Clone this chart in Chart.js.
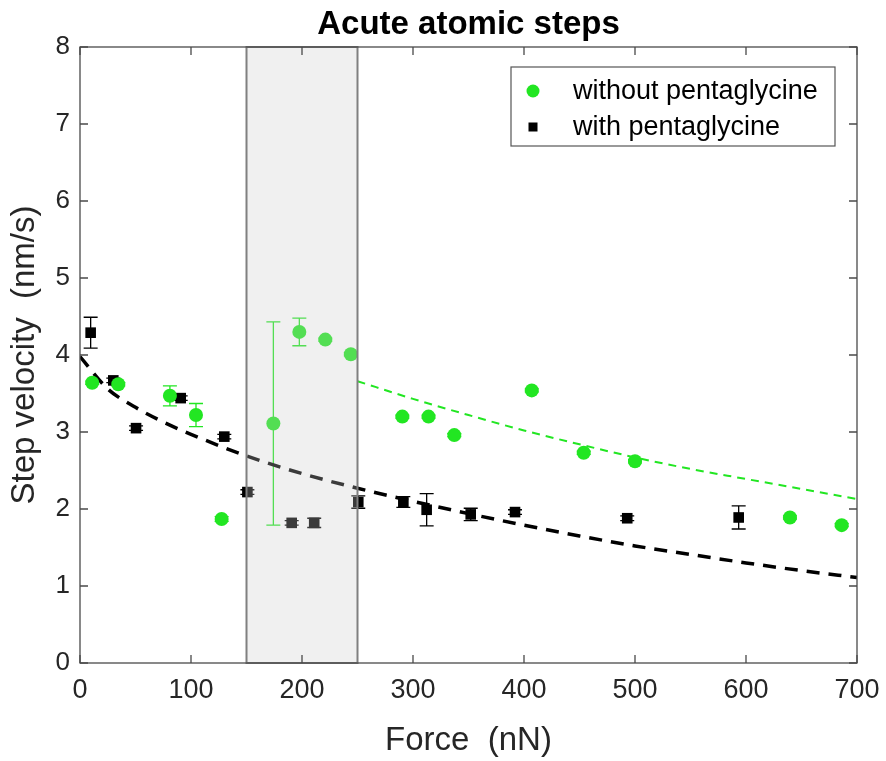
<!DOCTYPE html>
<html><head><meta charset="utf-8">
<script src="https://cdn.jsdelivr.net/npm/chart.js@4.4.1/dist/chart.umd.min.js"></script>
<style>html,body{margin:0;padding:0;background:#fff}#wrap{width:886px;height:761px}</style>
</head><body><div id="wrap"><canvas id="c" width="886" height="761"></canvas></div>
<script>
// ---- data ----
const chartTitle = "Acute atomic steps";
const xTitle = "Force  (nN)";
const yTitle = "Step velocity  (nm/s)";
const labelWithout = "without pentaglycine";
const labelWith = "with pentaglycine";

const withoutX   = [11, 34.5, 81, 104.5, 127.6, 174.2, 197.6, 221, 244, 290.4, 314, 337.2, 407, 453.8, 500, 639.6, 686.2];
const withoutY   = [3.64, 3.62, 3.47, 3.22, 1.87, 3.11, 4.30, 4.20, 4.01, 3.20, 3.20, 2.96, 3.54, 2.73, 2.62, 1.89, 1.79];
const withoutErr = [0.02, 0.02, 0.13, 0.15, 0.03, 1.32, 0.18, 0.02, 0.02, 0.02, 0.02, 0.02, 0.02, 0.02, 0.02, 0.02, 0.02];

const withX   = [9.6, 30, 50.5, 90.7, 130, 150.8, 190.7, 211, 250.7, 291.3, 312.3, 352, 391.9, 493, 593.4];
const withY   = [4.29, 3.67, 3.05, 3.44, 2.94, 2.22, 1.82, 1.82, 2.09, 2.09, 1.99, 1.93, 1.96, 1.88, 1.89];
const withErr = [0.20, 0.03, 0.03, 0.03, 0.03, 0.03, 0.03, 0.06, 0.08, 0.07, 0.21, 0.08, 0.03, 0.03, 0.15];

const fitWithX = [0, 25, 50, 75, 100, 150, 200, 250, 300, 350, 400, 450, 500, 550, 600, 650, 700];
const fitWithY = [3.98, 3.56, 3.32, 3.13, 2.97, 2.69, 2.46, 2.27, 2.10, 1.94, 1.79, 1.65, 1.52, 1.41, 1.30, 1.20, 1.11];

const fitWithoutX = [250, 300, 350, 400, 450, 500, 550, 600, 650, 700];
const fitWithoutY = [3.66, 3.43, 3.22, 3.02, 2.84, 2.67, 2.52, 2.39, 2.26, 2.13];

const shadedRange = [150, 250];
const xTicks = [0, 100, 200, 300, 400, 500, 600, 700];
const yTicks = [0, 1, 2, 3, 4, 5, 6, 7, 8];

// ---- styles ----
const GREEN = '#22e622';
const AXIS = '#4a4a4a';
const TEXT = '#262626';
const FONT = '"Liberation Sans", Arial, Helvetica, sans-serif';

const toPts = (xs, ys) => xs.map((x, i) => ({x: x, y: ys[i]}));

const errorBars = {
  id: 'errorBars',
  beforeDatasetsDraw(chart) {
    const ctx = chart.ctx, xs = chart.scales.x, ys = chart.scales.y;
    const sets = [
      {x: withoutX, y: withoutY, e: withoutErr, c: GREEN},
      {x: withX, y: withY, e: withErr, c: '#000'}
    ];
    ctx.save();
    ctx.lineWidth = 1.3;
    sets.forEach(s => {
      ctx.strokeStyle = s.c;
      s.x.forEach((xv, i) => {
        const px = xs.getPixelForValue(xv);
        const top = ys.getPixelForValue(s.y[i] + s.e[i]);
        const bot = ys.getPixelForValue(s.y[i] - s.e[i]);
        ctx.beginPath();
        ctx.moveTo(px, top); ctx.lineTo(px, bot);
        ctx.moveTo(px - 7, top); ctx.lineTo(px + 7, top);
        ctx.moveTo(px - 7, bot); ctx.lineTo(px + 7, bot);
        ctx.stroke();
      });
    });
    ctx.restore();
  },
  afterDatasetsDraw(chart) {
    const ctx = chart.ctx, xs = chart.scales.x, ys = chart.scales.y;
    const a = chart.chartArea;
    // shaded band
    const x0 = xs.getPixelForValue(shadedRange[0]);
    const x1 = xs.getPixelForValue(shadedRange[1]);
    ctx.save();
    ctx.fillStyle = 'rgba(203,203,203,0.29)';
    ctx.fillRect(x0, a.top, x1 - x0, a.bottom - a.top);
    ctx.strokeStyle = '#808080';
    ctx.lineWidth = 2;
    ctx.strokeRect(x0, a.top, x1 - x0, a.bottom - a.top);
    // frame
    ctx.strokeStyle = AXIS;
    ctx.lineWidth = 1.3;
    ctx.strokeRect(a.left, a.top, a.right - a.left, a.bottom - a.top);
    // inward ticks on all sides
    ctx.beginPath();
    xTicks.forEach(v => {
      const p = xs.getPixelForValue(v);
      ctx.moveTo(p, a.bottom); ctx.lineTo(p, a.bottom - 8);
      ctx.moveTo(p, a.top); ctx.lineTo(p, a.top + 8);
    });
    yTicks.forEach(v => {
      const p = ys.getPixelForValue(v);
      ctx.moveTo(a.left, p); ctx.lineTo(a.left + 8, p);
      ctx.moveTo(a.right, p); ctx.lineTo(a.right - 8, p);
    });
    ctx.stroke();
    // title
    ctx.fillStyle = '#000';
    ctx.font = 'bold 33px ' + FONT;
    ctx.textAlign = 'center';
    ctx.textBaseline = 'middle';
    ctx.fillText(chartTitle, (a.left + a.right) / 2, 25);
    // legend
    const lx = 511, ly = 67, lw = 324, lh = 79;
    ctx.fillStyle = '#fff';
    ctx.fillRect(lx, ly, lw, lh);
    ctx.strokeStyle = '#555';
    ctx.lineWidth = 1.2;
    ctx.strokeRect(lx, ly, lw, lh);
    ctx.fillStyle = GREEN;
    ctx.beginPath(); ctx.arc(lx + 22, ly + 24, 6.5, 0, Math.PI * 2); ctx.fill();
    ctx.fillStyle = '#000';
    ctx.fillRect(lx + 22 - 4.5, ly + 60 - 4.5, 9, 9);
    ctx.fillStyle = '#000';
    ctx.font = '27px ' + FONT;
    ctx.textAlign = 'left';
    ctx.fillText(labelWithout, lx + 62, ly + 25);
    ctx.fillText(labelWith, lx + 62, ly + 61);
    ctx.restore();
  }
};

new Chart(document.getElementById('c'), {
  type: 'scatter',
  data: {
    datasets: [
      {label: labelWithout, data: toPts(withoutX, withoutY), pointStyle: 'circle', pointRadius: 7,
       backgroundColor: GREEN, borderWidth: 0, order: 1},
      {label: labelWith, data: toPts(withX, withY), pointStyle: 'rect', pointRadius: 7.5,
       backgroundColor: '#000', borderWidth: 0, order: 2},
      {label: 'fit with', data: toPts(fitWithX, fitWithY), showLine: true, pointRadius: 0,
       borderColor: '#000', borderWidth: 3.5, borderDash: [13, 9], cubicInterpolationMode: 'monotone', order: 4},
      {label: 'fit without', data: toPts(fitWithoutX, fitWithoutY), showLine: true, pointRadius: 0,
       borderColor: GREEN, borderWidth: 2, borderDash: [8, 6], cubicInterpolationMode: 'monotone', order: 3}
    ]
  },
  options: {
    responsive: false,
    devicePixelRatio: 1,
    animation: false,
    layout: {padding: {top: 47, right: 29, bottom: 0, left: 0}},
    plugins: {legend: {display: false}, tooltip: {enabled: false}, title: {display: false}},
    scales: {
      x: {
        type: 'linear', min: 0, max: 700,
        afterBuildTicks: s => { s.ticks = xTicks.map(v => ({value: v})); },
        afterFit: s => { s.height = 98; s.paddingLeft = 0; s.paddingRight = 0; },
        grid: {display: false, drawTicks: false},
        border: {display: false},
        ticks: {color: TEXT, font: {family: FONT, size: 27}, padding: 11, maxRotation: 0},
        title: {display: true, text: xTitle, color: TEXT, font: {family: FONT, size: 33}, padding: {top: 0, bottom: 0}}
      },
      y: {
        type: 'linear', min: 0, max: 8,
        afterBuildTicks: s => { s.ticks = yTicks.map(v => ({value: v})); },
        afterFit: s => { s.width = 80; s.paddingTop = 0; s.paddingBottom = 0; },
        grid: {display: false, drawTicks: false},
        border: {display: false},
        ticks: {color: TEXT, font: {family: FONT, size: 26}, padding: 10},
        title: {display: true, text: yTitle, color: TEXT, font: {family: FONT, size: 33}, padding: {top: 5, bottom: 0}}
      }
    }
  },
  plugins: [errorBars]
});
</script></body></html>
